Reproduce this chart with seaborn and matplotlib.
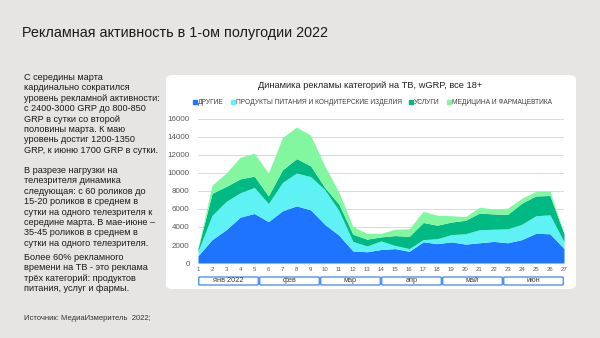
import numpy as np
import pandas as pd
import seaborn as sns
import matplotlib
matplotlib.use("Agg")
import matplotlib.pyplot as plt
from matplotlib.patches import FancyBboxPatch
from matplotlib.lines import Line2D

# ---- data ----
weeks = list(range(1, 28))
months = ["янв 2022", "фев", "мар", "апр", "май", "июн"]
series_names = ["ДРУГИЕ", "ПРОДУКТЫ ПИТАНИЯ И КОНДИТЕРСКИЕ ИЗДЕЛИЯ", "УСЛУГИ", "МЕДИЦИНА И ФАРМАЦЕВТИКА"]
other = [800, 2600, 3700, 5100, 5500, 4600, 5800, 6350, 5900, 4300, 3100, 1350, 1250, 1500,
         1600, 1300, 2350, 2150, 2350, 2100, 2250, 2400, 2250, 2600, 3300, 3250, 1600]
food = [500, 2700, 3150, 2700, 2900, 2000, 3150, 3650, 3700, 3850, 2750, 1050, 650, 950,
        350, 300, 250, 550, 800, 1150, 1450, 1350, 1550, 1700, 1950, 2100, 750]
services = [300, 2450, 1650, 1550, 1250, 850, 1400, 1600, 1200, 250, 700, 800, 750, 450,
            1100, 1350, 1900, 1500, 1400, 1500, 1850, 1700, 1600, 2350, 2200, 2150, 900]
medicine = [100, 900, 1500, 2400, 2550, 2550, 3600, 3500, 3400, 2400, 1350, 850, 650, 400,
            700, 850, 1250, 1100, 700, 400, 650, 550, 700, 550, 500, 500, 50]
yticks = [0, 2000, 4000, 6000, 8000, 10000, 12000, 14000, 16000]

title = "Рекламная активность в 1-ом полугодии 2022"
chart_title = "Динамика рекламы категорий на ТВ, wGRP, все 18+"
para1 = ("С середины марта\nкардинально сократился\nуровень рекламной активности:\n"
         "с 2400-3000 GRP до 800-850\nGRP в сутки со второй\nполовины марта. К маю\n"
         "уровень достиг 1200-1350\nGRP, к июню 1700 GRP в сутки.")
para2 = ("В разрезе нагрузки на\nтелезрителя динамика\nследующая: с 60 роликов до\n"
         "15-20 роликов в среднем в\nсутки на одного телезрителя к\nсередине марта. В мае-июне –\n"
         "35-45 роликов в среднем в\nсутки на одного телезрителя.")
para3 = ("Более 60% рекламного\nвремени на ТВ - это реклама\nтрёх категорий: продуктов\n"
         "питания, услуг и фармы.")
source = "Источник: МедиаИзмеритель  2022;"

df = pd.DataFrame({"week": weeks, series_names[0]: other, series_names[1]: food,
                   series_names[2]: services, series_names[3]: medicine})

colors = ["#1f74ff", "#5ff2f5", "#00b983", "#82f7a0"]

sns.set_theme(style="white")
plt.rcParams["font.family"] = ["Liberation Sans", "DejaVu Sans"]

W, H = 600, 338
fig = plt.figure(figsize=(6, 3.38), dpi=100)
fig.patch.set_facecolor("#e6e5e3")

def fx(px):
    return px / W

def fy(py):
    return 1 - py / H

# white panel (drawn beneath the axes)
panel = FancyBboxPatch((fx(166), fy(289)), fx(576) - fx(166), fy(75) - fy(289),
                       boxstyle="round,pad=0,rounding_size=0.012",
                       transform=fig.transFigure, facecolor="white", edgecolor="none", zorder=-5)
fig.patches.append(panel)

ax = fig.add_axes([fx(198), fy(263), fx(564) - fx(198), fy(119) - fy(263)])
ax.set_zorder(2)
ax.set_facecolor("none")
ax.stackplot(df["week"], [df[n] for n in series_names], colors=colors, linewidth=0, zorder=3)
ax.set_xlim(1, 27)
ax.set_ylim(0, 16000)
ax.set_yticks(yticks)
ax.set_yticklabels([str(v) for v in yticks], fontsize=5.8, color="#595959")
ax.set_xticks(weeks)
ax.set_xticklabels([str(w) for w in weeks], fontsize=4.3, color="#595959")
ax.tick_params(axis="both", length=0, pad=3)
ax.tick_params(axis="y", pad=6)
ax.grid(axis="y", color="#d9d9d9", linewidth=0.7, zorder=0)
ax.grid(axis="x", visible=False)
ax.set_axisbelow(True)
sns.despine(ax=ax, left=True, bottom=True)

# month boxes
axh = 144.0
y0 = -(285 - 263) / axh
bh = (285 - 277) / axh
for i, m in enumerate(months):
    x0 = i / 6 + 0.002
    bw = 1 / 6 - 0.004
    box = FancyBboxPatch((x0, y0), bw, bh, boxstyle="round,pad=0,rounding_size=0.004",
                         transform=ax.transAxes, facecolor="white", edgecolor="#3d85f5",
                         linewidth=0.9, clip_on=False, zorder=5)
    ax.add_patch(box)
    ax.text(x0 + bw / 2, y0 + bh / 2, m, transform=ax.transAxes, ha="center", va="center",
            fontsize=5.3, color="#404040", zorder=6)

# chart title and legend
fig.text(fx(370), fy(86), chart_title, ha="center", va="center", fontsize=6.7, color="#222222")
handles = [Line2D([0], [0], marker="s", linestyle="none", markersize=2.6,
                  markerfacecolor=c, markeredgecolor=c) for c in colors]
fig.legend(handles, series_names, loc="center", bbox_to_anchor=(fx(372), fy(103)), ncol=4,
           frameon=False, fontsize=4.8, handletextpad=0.05, columnspacing=1.0,
           handlelength=0.8, labelcolor="#404040")

# slide texts
fig.text(fx(22), fy(33), title, ha="left", va="center", fontsize=10.4, color="#1a1a1a")
for txt, top in [(para1, 73), (para2, 166), (para3, 253)]:
    fig.text(fx(24), fy(top), txt, ha="left", va="top", fontsize=6.6,
             linespacing=1.2, color="#1a1a1a")
fig.text(fx(24), fy(318), source, ha="left", va="center", fontsize=5.5, color="#333333")

fig.savefig("out.png", dpi=100, facecolor=fig.get_facecolor())
